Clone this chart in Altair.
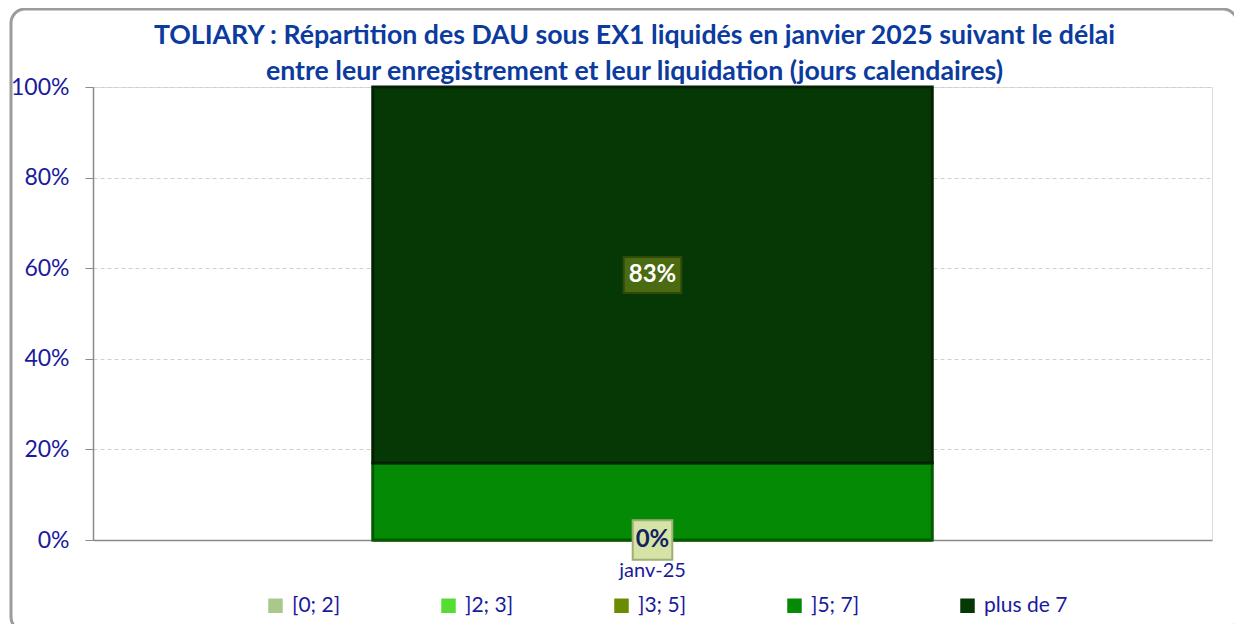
import altair as alt
import pandas as pd

# ---- data ----
month = "janv-25"
categories = ["[0; 2]", "]2; 3]", "]3; 5]", "]5; 7]", "plus de 7"]
values = [0, 0, 0, 17, 83]
labels = ["0%", "", "", "", "83%"]
show_label = [True, False, False, False, True]
title_lines = ["TOLIARY : Répartition des DAU sous EX1 liquidés en janvier 2025 suivant le délai",
               "entre leur enregistrement et leur liquidation (jours calendaires)"]

colors = ["#a9c98a", "#55dd33", "#6b8c00", "#058a05", "#053805"]
strokes = ["#7f9a66", "#3aa822", "#4c6600", "#035a03", "#022202"]
box_fill = ["#d6e3a6", "", "", "", "#4b6b12"]
box_stroke = ["#9fae73", "", "", "", "#2f4a08"]
text_col = ["#13235f", "", "", "", "#ffffff"]
box_path = ["M-1.1,-1.1H1.1V1.1H-1.1Z", "", "", "", "M-1.6,-1H1.6V1H-1.6Z"]

df = pd.DataFrame({
    "month": [month] * len(categories),
    "cat": categories,
    "value": values,
    "idx": list(range(len(categories))),
    "label": labels,
    "show": show_label,
    "stroke_col": strokes,
    "box_fill": box_fill,
    "box_stroke": box_stroke,
    "text_col": text_col,
    "box_path": box_path,
})

W, H = 1119, 453
FONT = "Lato"
NAVY = "#1a1a9c"

x_enc = alt.X("month:N", title=None,
              scale=alt.Scale(paddingInner=0, paddingOuter=0.5),
              axis=alt.Axis(labelAngle=0, labelFontSize=20, labelColor=NAVY, labelFont=FONT,
                            ticks=False, domainColor="#8a8a8a", domainWidth=1.5, labelPadding=20))

frame = alt.Chart(pd.DataFrame({"a": [0]})).mark_rect(
    fill="transparent", stroke="#9c9c9c", strokeWidth=3, cornerRadius=14
).encode(x=alt.value(-82), x2=alt.value(1144), y=alt.value(-78), y2=alt.value(544))

title = alt.Chart(pd.DataFrame({"t": ["\n".join(title_lines)]})).mark_text(
    font=FONT, fontSize=26.7, fontWeight="bold", color="#0b3b9e", baseline="middle",
    align="center", lineBreak="\n", lineHeight=36
).encode(
    text="t:N",
    x=alt.value(W / 2 - 18),
    y=alt.value(-51),
)

bars = alt.Chart(df).mark_bar(strokeWidth=3).encode(
    x=x_enc,
    y=alt.Y("value:Q", stack="zero", title=None,
            scale=alt.Scale(domain=[0, 100], nice=False),
            axis=alt.Axis(values=[0, 20, 40, 60, 80, 100], labelExpr="datum.value + '%'",
                          labelFontSize=23, labelColor=NAVY, labelFont=FONT,
                          tickSize=8, tickColor="#8a8a8a", domainColor="#8a8a8a", domainWidth=1.5,
                          labelPadding=16, grid=True, gridColor="#d0d0d0", gridDash=[4, 3])),
    color=alt.Color("cat:N", scale=alt.Scale(domain=categories, range=colors),
                    legend=alt.Legend(title=None, orient="none", direction="horizontal",
                                      legendX=172, legendY=508, symbolType="square", symbolSize=210,
                                      symbolStrokeWidth=0, labelFontSize=21, labelColor=NAVY,
                                      labelFont=FONT, columnPadding=97, labelOffset=6)),
    stroke=alt.Color("stroke_col:N", scale=None),
    order=alt.Order("idx:Q"),
)

lab_base = alt.Chart(df).transform_stack(
    stack="value", groupby=["month"], as_=["y0", "y1"], sort=[alt.SortField("idx")]
).transform_calculate(mid="(datum.y0 + datum.y1) / 2").transform_filter("datum.show")

boxes = lab_base.mark_point(filled=True, size=1296, strokeWidth=2, opacity=1).encode(
    x=alt.X("month:N"),
    y=alt.Y("mid:Q"),
    shape=alt.Shape("box_path:N", scale=None),
    fill=alt.Color("box_fill:N", scale=None),
    stroke=alt.Color("box_stroke:N", scale=None),
)

texts = lab_base.mark_text(fontSize=24, fontWeight="bold", font=FONT, baseline="middle").encode(
    x=alt.X("month:N"),
    y=alt.Y("mid:Q"),
    text="label:N",
    color=alt.Color("text_col:N", scale=None),
)

chart = alt.layer(frame, title, bars, boxes, texts).properties(
    width=W, height=H,
    autosize=alt.AutoSizeParams(type="none"),
    padding={"left": 85, "top": 79, "right": 22, "bottom": 84},
).configure_view(stroke="#c8c8c8", strokeWidth=1).configure(background="white")

chart.save("out.html", embed_options={"renderer": "svg", "actions": False})
